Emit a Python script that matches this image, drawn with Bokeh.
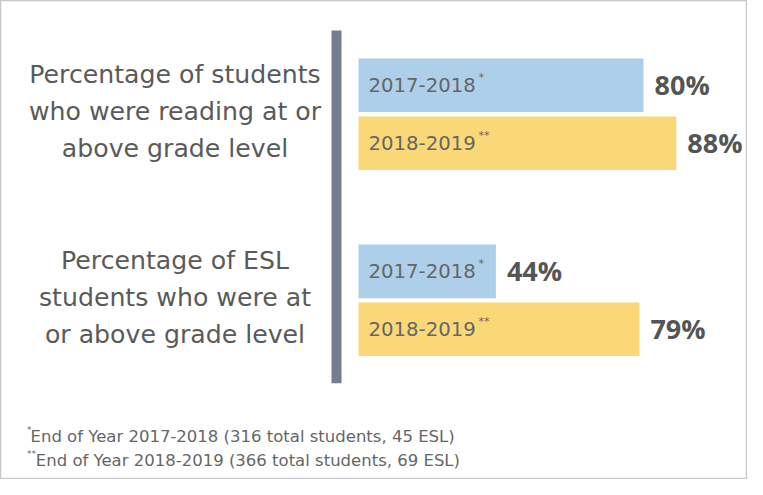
from bokeh.plotting import figure
from bokeh.models import Range1d, ColumnDataSource
from bokeh.core.properties import value
from bokeh.embed import file_html
from bokeh.resources import INLINE

# ---------------- data ----------------
group_labels = [
    ["Percentage of students", "who were reading at or", "above grade level"],
    ["Percentage of ESL", "students who were at", "or above grade level"],
]
years = ["2017-2018", "2018-2019"]
year_marks = ["*", "**"]
pct_2017_2018 = [80, 44]
pct_2018_2019 = [88, 79]
footnote_marks = ["*", "**"]
footnotes = [
    "End of Year 2017-2018 (316 total students, 45 ESL)",
    "End of Year 2018-2019 (366 total students, 69 ESL)",
]
bar_colors = ["#aecfea", "#fad878"]

# ---------------- layout ----------------
W, H = 747, 479
PAGE = 0
ORIGIN_PX = 315.0      # screen x of 0 %
PX_PER_PCT = 4.1
G0_PX = 113.75         # screen y of first group centre
GROUP_PX = 186.1       # distance between group centres

def sx(px):
    return (px - ORIGIN_PX) / PX_PER_PCT

def sy(px):
    return (px - G0_PX) / GROUP_PX

FONT = value("DejaVu Sans")
BOLD_FONT = value("Open Sans")
BAR_START = sx(358)
OFFSET = 28.95 / GROUP_PX
BAR_H = 53.6 / GROUP_PX
LINE_STEP = 37.0 / GROUP_PX
LABEL_SHIFT = -2.5 / GROUP_PX

p = figure(width=W, height=H, output_backend="svg", toolbar_location=None,
           x_range=Range1d(sx(PAGE), sx(PAGE + W)),
           y_range=Range1d(sy(PAGE + H), sy(PAGE)),
           x_axis_type=None, y_axis_type=None, min_border=0)
p.xgrid.visible = False
p.ygrid.visible = False
p.outline_line_color = "#c8c8c8"
p.outline_line_width = 1.5
p.background_fill_color = "white"
p.border_fill_color = "white"

# vertical divider
p.quad(left=sx(331), right=sx(341), top=sy(30), bottom=sy(382.7),
       fill_color="#737f8f", line_color=None)

# group labels
for g, lines in enumerate(group_labels):
    ys = [g + (k - 1) * LINE_STEP + LABEL_SHIFT for k in range(len(lines))]
    src = ColumnDataSource(dict(x=[sx(174.5)] * len(lines), y=ys, t=lines))
    p.text(x="x", y="y", text="t", source=src, text_font=FONT,
           text_font_size="25.2px", text_color="#5a5a5a",
           text_align="center", text_baseline="middle")

# bars
for j, vals in enumerate([pct_2017_2018, pct_2018_2019]):
    n = len(vals)
    ys = [g + (2 * j - 1) * OFFSET for g in range(n)]
    src = ColumnDataSource(dict(
        y=ys, right=vals,
        ym=[y - 8.0 / GROUP_PX for y in ys],
        yp=[y - 1.0 / GROUP_PX for y in ys],
        label=[years[j]] * n,
        mark=[year_marks[j]] * n,
        pct=[f"{v}%" for v in vals],
    ))
    p.hbar(y="y", left=BAR_START, right="right", height=BAR_H, source=src,
           fill_color=bar_colors[j], line_color=None)
    p.text(x=BAR_START, y="y", text="label", source=src, x_offset=10,
           text_font=FONT, text_font_size="19.7px", text_color="#666666",
           text_baseline="middle", text_align="left")
    p.text(x=sx(478), y="ym", text="mark", source=src,
           text_font=FONT, text_font_size="11px", text_color="#666666",
           text_baseline="middle", text_align="left")
    p.text(x="right", y="yp", text="pct", source=src, x_offset=11,
           text_font=BOLD_FONT, text_font_size="27px", text_font_style="bold",
           text_color="#555555", text_baseline="middle", text_align="left")

# footnotes
fn_src = ColumnDataSource(dict(
    x=[sx(30), sx(35.3)], y=[sy(436), sy(460)], t=footnotes,
    xm=[sx(26.5), sx(26.5)], ym=[sy(424), sy(448)], m=footnote_marks,
))
p.text(x="x", y="y", text="t", source=fn_src, text_font=FONT,
       text_font_size="16.5px", text_color="#666666",
       text_baseline="alphabetic", text_align="left")
p.text(x="xm", y="ym", text="m", source=fn_src, text_font=FONT,
       text_font_size="9px", text_color="#666666",
       text_baseline="top", text_align="left")

open("out.html", "w").write(file_html(p, INLINE))
